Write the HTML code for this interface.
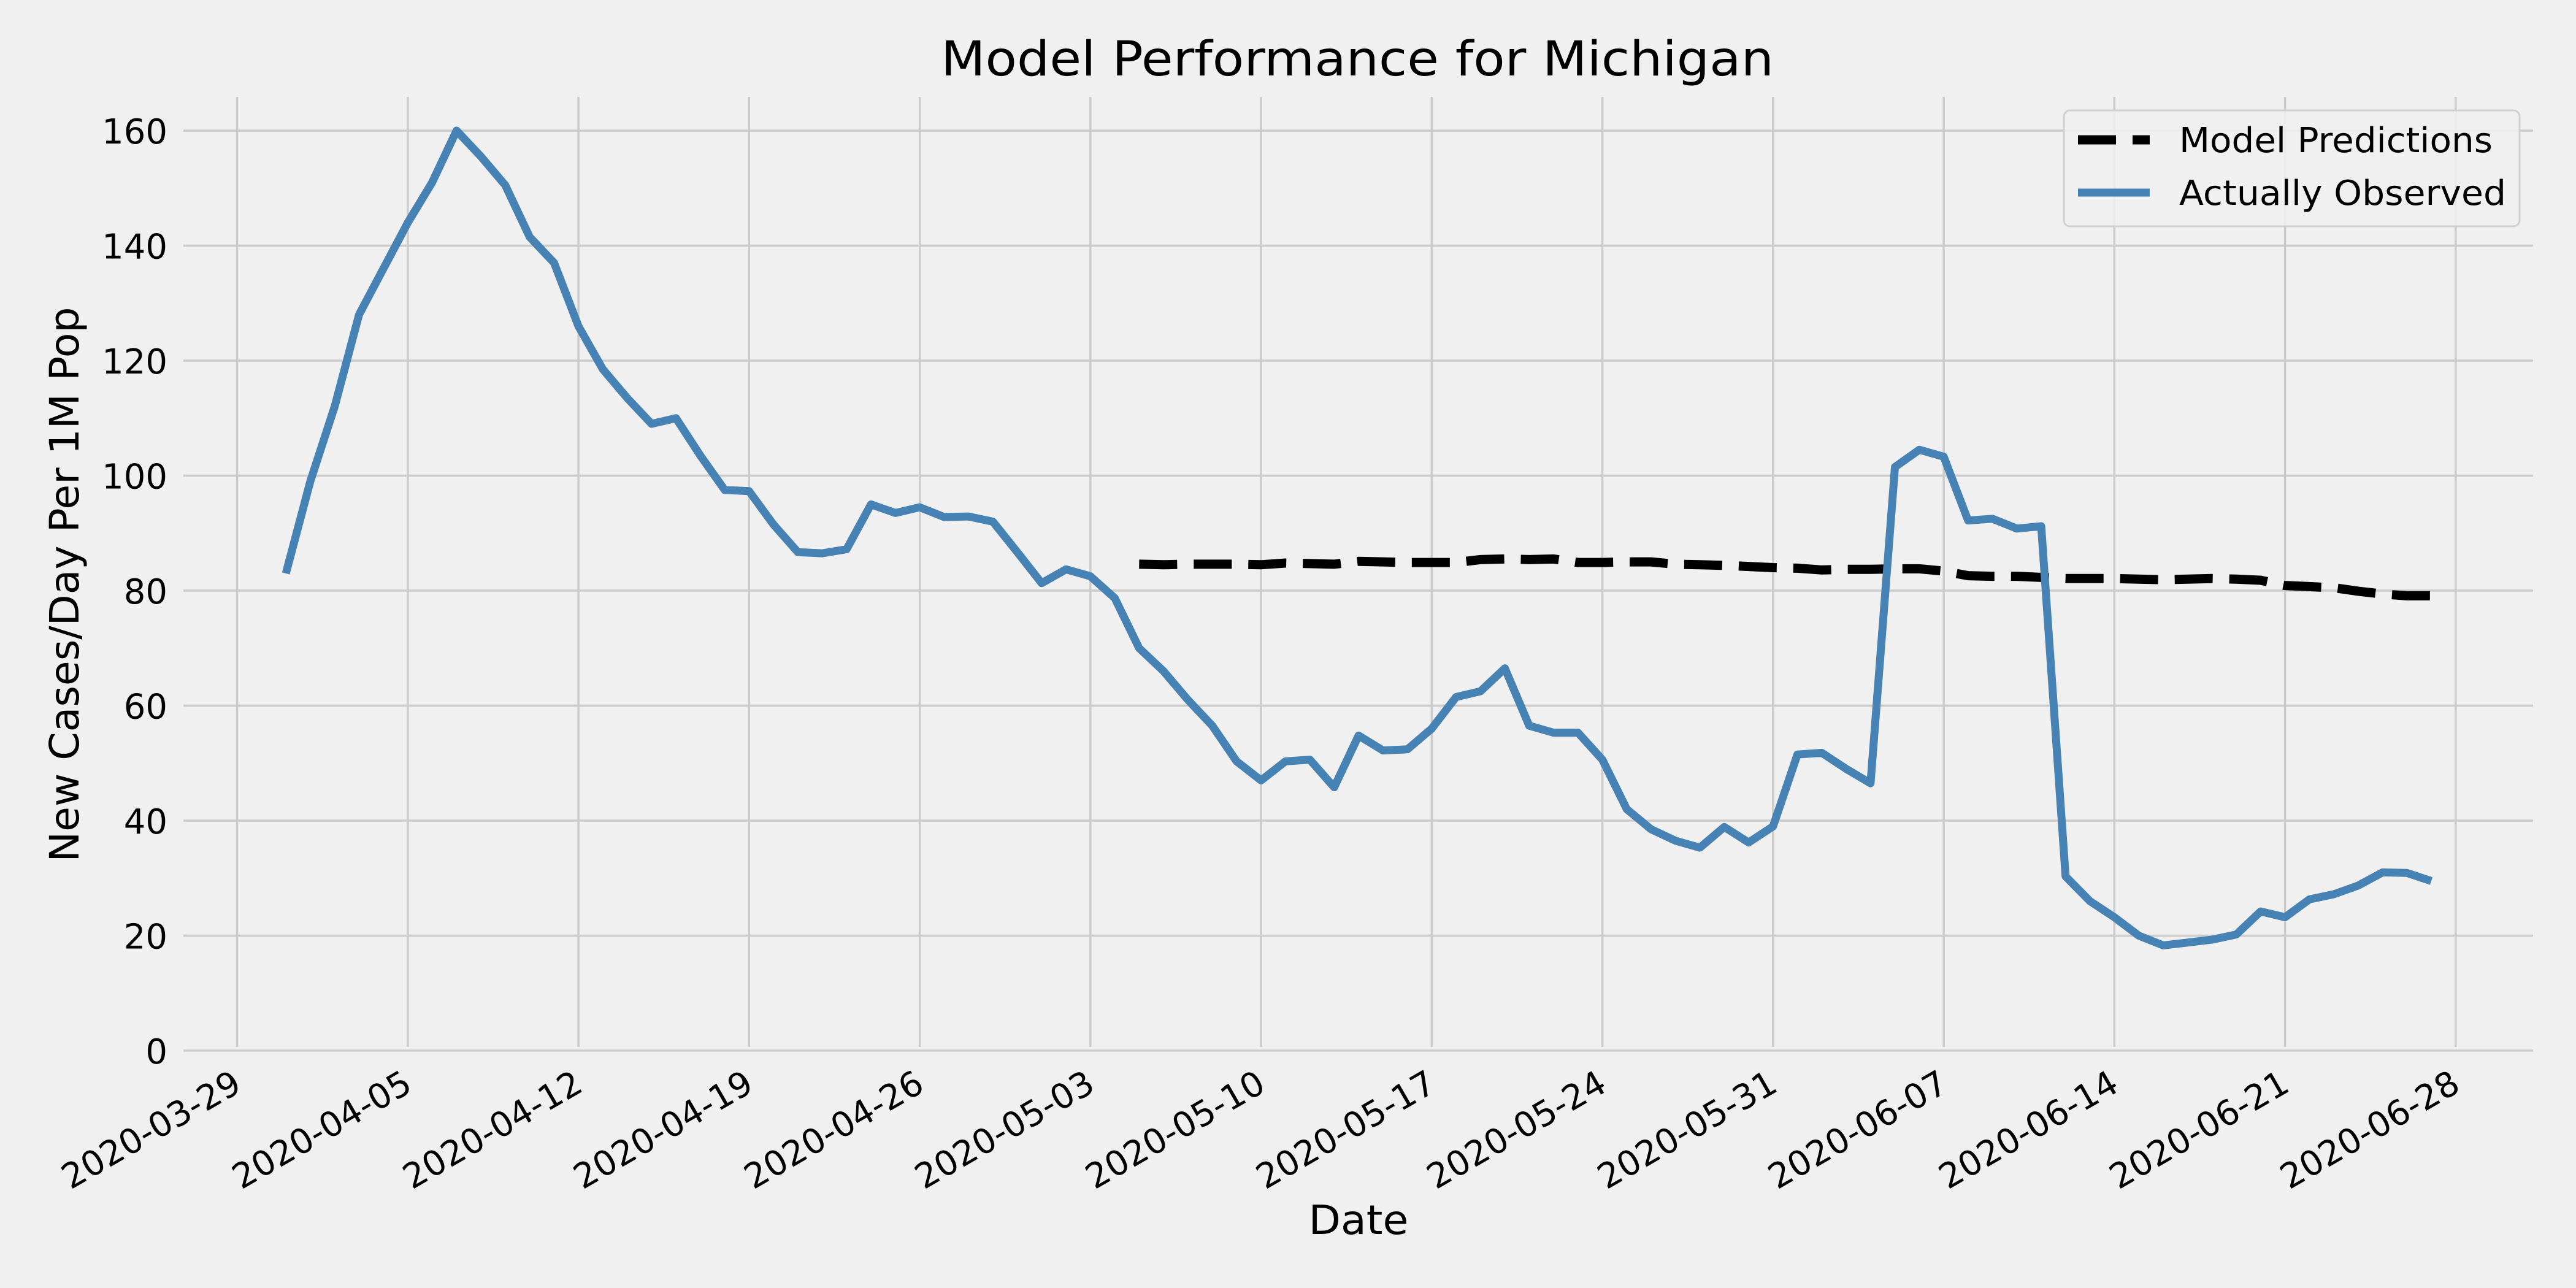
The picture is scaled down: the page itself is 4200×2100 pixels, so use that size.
<!DOCTYPE html>
<html><head><meta charset="utf-8"><style>
html,body{margin:0;padding:0;background:#f0f0f0;}
svg{display:block;font-family:"DejaVu Sans","Liberation Sans",sans-serif;}
</style></head><body>
<svg id="chart" width="4200" height="2100" viewBox="0 0 4200 2100" xmlns="http://www.w3.org/2000/svg">
<rect width="4200" height="2100" fill="#f0f0f0"/>
<g id="grid"></g>
<g id="ticks"></g>
<g id="series"></g>
<text x="2213" y="123" text-anchor="middle" font-size="78" textLength="1358" lengthAdjust="spacingAndGlyphs">Model Performance for Michigan</text>
<text x="2215" y="2012" text-anchor="middle" font-size="66" textLength="163" lengthAdjust="spacingAndGlyphs">Date</text>
<text transform="translate(128,953) rotate(-90)" text-anchor="middle" font-size="66" textLength="905" lengthAdjust="spacingAndGlyphs">New Cases/Day Per 1M Pop</text>
<g>
<rect x="3365" y="180" width="743" height="189" rx="10" fill="#f0f0f0" fill-opacity="0.85" stroke="#d0d0d0" stroke-width="3"/>
<line x1="3388" y1="228" x2="3505" y2="228" stroke="#000" stroke-width="15" stroke-dasharray="62 27"/>
<text x="3553" y="248" font-size="56" textLength="511" lengthAdjust="spacingAndGlyphs">Model Predictions</text>
<line x1="3388" y1="314" x2="3505" y2="314" stroke="#4682b4" stroke-width="13"/>
<text x="3553" y="334" font-size="56" textLength="533" lengthAdjust="spacingAndGlyphs">Actually Observed</text>
</g>
</svg>
<script>
const yTicks = [0,20,40,60,80,100,120,140,160];
const xTickLabels = ["2020-03-29","2020-04-05","2020-04-12","2020-04-19","2020-04-26","2020-05-03","2020-05-10","2020-05-17","2020-05-24","2020-05-31","2020-06-07","2020-06-14","2020-06-21","2020-06-28"];
const observedStart = "2020-03-31";
const observed = [83,99,112,128,136,144,151,160,155.5,150.5,141.5,137,126,118.5,113.5,109,110,103.5,97.5,97.3,91.5,86.7,86.5,87.2,95,93.5,94.5,92.8,92.9,92,86.7,81.3,83.7,82.5,78.7,70,66,61,56.5,50.3,47,50.3,50.6,45.8,54.8,52.2,52.4,56,61.5,62.5,66.5,56.5,55.3,55.3,50.6,42,38.5,36.5,35.3,38.9,36.2,39,51.5,51.8,49,46.5,101.5,104.5,103.3,92.2,92.5,90.8,91.2,30.3,26,23.2,20,18.3,18.8,19.3,20.2,24.2,23.2,26.3,27.2,28.7,31,30.9,29.5];
const predictedStart = "2020-05-05";
const predicted = [84.6,84.5,84.6,84.6,84.6,84.5,84.8,84.7,84.6,85.1,85.0,84.9,84.9,84.9,85.4,85.5,85.4,85.5,84.9,84.9,85.0,85.0,84.6,84.5,84.4,84.2,84.0,83.9,83.6,83.7,83.7,83.8,83.8,83.4,82.6,82.5,82.5,82.3,82.1,82.1,82.1,82.0,81.9,82.0,82.1,82.0,81.8,80.9,80.7,80.5,79.9,79.4,79.1,79.1];

const NS="http://www.w3.org/2000/svg";
const origin = Date.UTC(2020,2,29);
function dayOf(s){const p=s.split("-");return (Date.UTC(+p[0],+p[1]-1,+p[2])-origin)/86400000;}
function xScale(d){return 386.6 + 39.75*d;}
function yScale(v){return 1713 - 9.375*v;}
function mk(tag,attrs,parent){const e=document.createElementNS(NS,tag);for(const k in attrs)e.setAttribute(k,attrs[k]);parent.appendChild(e);return e;}
const grid=document.getElementById("grid"), ticks=document.getElementById("ticks"), series=document.getElementById("series");

yTicks.forEach(v=>{
  const l=mk("line",{x1:299,x2:4130,y1:yScale(v),y2:yScale(v),stroke:"#cbcbcb","stroke-width":3.5},grid);
  
  
  const t=mk("text",{x:273,y:yScale(v)+21,"text-anchor":"end","font-size":56},ticks);
  t.textContent=v;
  
  
});
xTickLabels.forEach(s=>{
  const x=xScale(dayOf(s));
  const l=mk("line",{x1:x,x2:x,y1:158,y2:1707,stroke:"#cbcbcb","stroke-width":3.5},grid);
  
  
  const t=mk("text",{transform:`translate(${x-10},1742) rotate(-30)`,"text-anchor":"end","dominant-baseline":"hanging","font-size":56},ticks);
  t.textContent=s;
  
  
});
function pts(start,arr){const d0=dayOf(start);return arr.map((v,i)=>xScale(d0+i).toFixed(1)+","+yScale(v).toFixed(1)).join(" ");}
const pl=mk("polyline",{points:pts(predictedStart,predicted),fill:"none",stroke:"#000","stroke-width":15,"stroke-dasharray":"62 27"},series);


const ol=mk("polyline",{points:pts(observedStart,observed),fill:"none",stroke:"#4682b4","stroke-width":13,"stroke-linejoin":"round"},series);


</script>
</body></html>
